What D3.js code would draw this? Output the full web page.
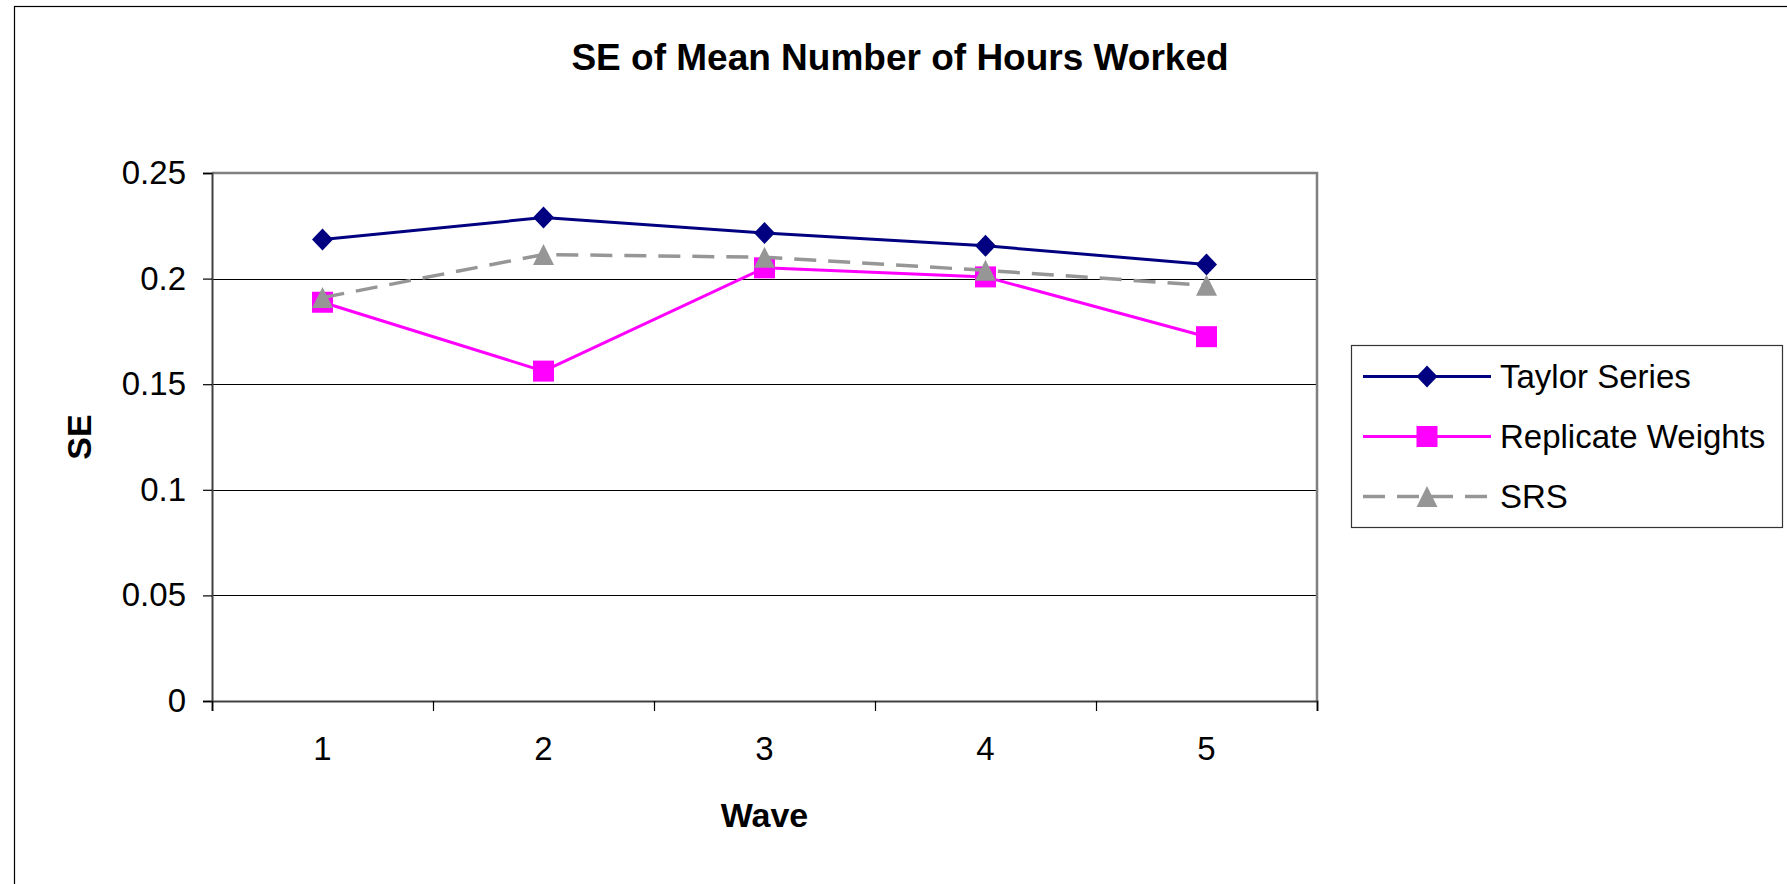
<!DOCTYPE html>
<html>
<head>
<meta charset="utf-8">
<script src="https://cdn.jsdelivr.net/npm/d3@7/dist/d3.min.js"></script>
<style>
  html, body { margin: 0; padding: 0; background: #fff; }
  svg { display: block; font-family: Arial, "Liberation Sans", sans-serif; }
</style>
</head>
<body>
<svg id="chart" width="1787" height="884"></svg>
<script>
// ---- data ----
const waves = ['1', '2', '3', '4', '5'];
const taylorSeries = [0.2185, 0.2289, 0.2216, 0.2155, 0.2067];
const replicateWeights = [0.1888, 0.1562, 0.2051, 0.2008, 0.1725];
const srs = [0.191, 0.2114, 0.2101, 0.2039, 0.1968];
const yTicks = [0, 0.05, 0.1, 0.15, 0.2, 0.25];
const seriesNames = ['Taylor Series', 'Replicate Weights', 'SRS'];

// ---- layout ----
const PLOT = { left: 212, right: 1317, top: 173, bottom: 701 };

const svg = d3.select('#chart');

// outer chart border (right/bottom edges run off the picture)
svg.append('rect')
  .attr('x', 14.5).attr('y', 6.5)
  .attr('width', 1800).attr('height', 900)
  .attr('fill', 'none').attr('stroke', '#000').attr('stroke-width', 1.2);

const x = d3.scaleBand().domain(waves).range([PLOT.left, PLOT.right]).paddingInner(0).paddingOuter(0);
const xEdge = d3.scaleLinear().domain([0, waves.length]).range([PLOT.left, PLOT.right]);
const y = d3.scaleLinear().domain([0, 0.25]).range([PLOT.bottom, PLOT.top]);
const cx = d => x(d) + x.bandwidth() / 2;

// gridlines
svg.append('g')
  .selectAll('line')
  .data(yTicks.filter(t => t > 0 && t < 0.25))
  .enter().append('line')
  .attr('x1', PLOT.left).attr('x2', PLOT.right)
  .attr('y1', d => Math.round(y(d)) + 0.5).attr('y2', d => Math.round(y(d)) + 0.5)
  .attr('stroke', '#000').attr('stroke-width', 1);

// plot area border (top/right grey)
svg.append('path')
  .attr('d', `M${PLOT.left},${PLOT.top} H${PLOT.right} V${PLOT.bottom}`)
  .attr('fill', 'none').attr('stroke', '#808080').attr('stroke-width', 2.5);

// y axis
const yAxis = svg.append('g')
  .attr('transform', `translate(${PLOT.left},0)`)
  .call(d3.axisLeft(y).tickValues(yTicks).tickFormat(d => String(d)).tickSize(9).tickPadding(17));
yAxis.select('.domain').attr('stroke', '#404040').attr('stroke-width', 2);
yAxis.selectAll('.tick line').attr('stroke', '#000').attr('stroke-width', 1.2);
yAxis.selectAll('text').attr('font-size', 33).attr('fill', '#000')
  .attr('font-family', 'Arial, "Liberation Sans", sans-serif');

// x axis tick marks at category edges
const xTickAxis = svg.append('g')
  .attr('transform', `translate(0,${PLOT.bottom})`)
  .call(d3.axisBottom(xEdge).tickValues(d3.range(waves.length + 1)).tickFormat('').tickSize(10));
xTickAxis.select('.domain').attr('stroke', '#404040').attr('stroke-width', 2);
xTickAxis.selectAll('.tick line').attr('stroke', '#000').attr('stroke-width', 1.2);

// x axis labels
const xLabelAxis = svg.append('g')
  .attr('transform', `translate(0,${PLOT.bottom})`)
  .call(d3.axisBottom(x).tickSize(0).tickPadding(36));
xLabelAxis.select('.domain').remove();
xLabelAxis.selectAll('text').attr('font-size', 33).attr('fill', '#000')
  .attr('font-family', 'Arial, "Liberation Sans", sans-serif');

// titles
svg.append('text')
  .attr('x', 900).attr('y', 70)
  .attr('text-anchor', 'middle')
  .attr('font-size', 37).attr('font-weight', 'bold')
  .text('SE of Mean Number of Hours Worked');

svg.append('text')
  .attr('x', (PLOT.left + PLOT.right) / 2).attr('y', 827)
  .attr('text-anchor', 'middle')
  .attr('font-size', 34).attr('font-weight', 'bold')
  .text('Wave');

svg.append('text')
  .attr('transform', `translate(91,${(PLOT.top + PLOT.bottom) / 2}) rotate(-90)`)
  .attr('text-anchor', 'middle')
  .attr('font-size', 34).attr('font-weight', 'bold')
  .text('SE');

// ---- series ----
// marker outlines, ~21px across like the Excel markers
const MARKERS = {
  diamond:  'M0,-11L10.5,0L0,11L-10.5,0Z',
  square:   'M-10.5,-10.5H10.5V10.5H-10.5Z',
  triangle: 'M0,-10.5L10.5,10.5H-10.5Z'
};

const series = [
  { name: seriesNames[0], values: taylorSeries, color: '#000080', dash: null, marker: 'diamond' },
  { name: seriesNames[1], values: replicateWeights, color: '#FF00FF', dash: null, marker: 'square' },
  { name: seriesNames[2], values: srs, color: '#969696', dash: '22,12', marker: 'triangle' }
];

const line = d3.line().x((d, i) => cx(waves[i])).y(d => y(d));

series.forEach(s => {
  svg.append('path')
    .datum(s.values)
    .attr('d', line)
    .attr('fill', 'none')
    .attr('stroke', s.color)
    .attr('stroke-width', s.dash ? 3.5 : 3)
    .attr('stroke-dasharray', s.dash);

  svg.append('g').selectAll('path')
    .data(s.values)
    .enter().append('path')
    .attr('d', MARKERS[s.marker])
    .attr('transform', (d, i) => `translate(${cx(waves[i])},${y(d)})`)
    .attr('fill', s.color);
});

// ---- legend ----
const legend = svg.append('g');
legend.append('rect')
  .attr('x', 1351.5).attr('y', 345.5)
  .attr('width', 431).attr('height', 182)
  .attr('fill', '#fff').attr('stroke', '#333').attr('stroke-width', 1.2);

const legendRows = [376.5, 436.5, 496.5];
series.forEach((s, i) => {
  const ly = legendRows[i];
  legend.append('line')
    .attr('x1', 1363).attr('x2', 1491)
    .attr('y1', ly).attr('y2', ly)
    .attr('stroke', s.color)
    .attr('stroke-width', s.dash ? 3.5 : 3)
    .attr('stroke-dasharray', s.dash);
  legend.append('path')
    .attr('d', MARKERS[s.marker])
    .attr('transform', `translate(1427,${ly})`)
    .attr('fill', s.color);
  legend.append('text')
    .attr('x', 1500).attr('y', ly + 11)
    .attr('font-size', 33).attr('fill', '#000')
    .text(s.name);
});
</script>
</body>
</html>
